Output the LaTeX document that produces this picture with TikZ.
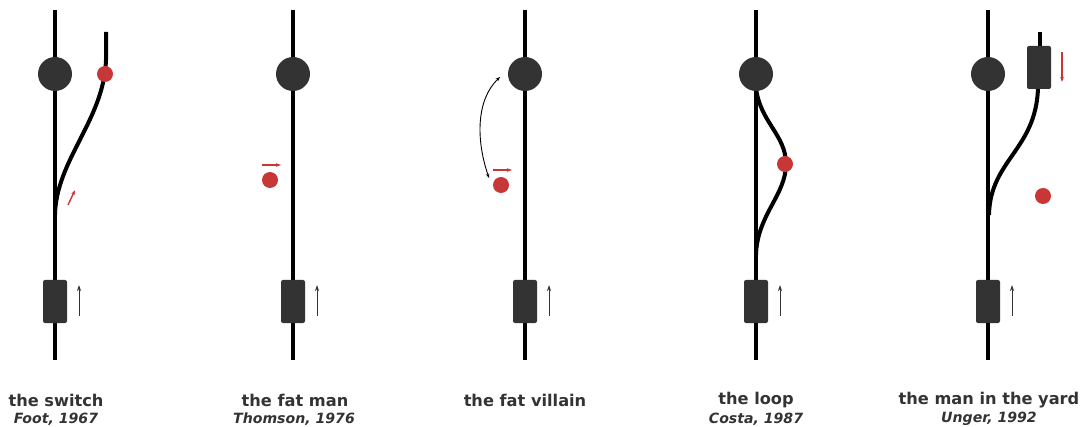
\documentclass[tikz,border=0pt]{standalone}
\usepackage{fontspec}
\setmainfont{DejaVu Sans}
\usetikzlibrary{arrows.meta}
\definecolor{dk}{HTML}{333333}
\definecolor{rd}{HTML}{C83737}
\tikzset{
  track/.style={line width=4pt, black},
  stn/.style={circle, fill=dk, minimum size=34pt, inner sep=0pt},
  person/.style={circle, fill=rd, minimum size=16pt, inner sep=0pt},
  tram/.style={rectangle, rounded corners=2pt, fill=dk, minimum width=24pt, minimum height=43pt, inner sep=0pt},
  motion/.style={line width=1pt, dk, -{Stealth[length=6pt,width=4pt]}},
  push/.style={line width=1.4pt, rd, -{Stealth[length=5pt,width=3.5pt]}},
  title/.style={font=\bfseries\fontsize{16.2}{19}\selectfont, text=dk, inner sep=0pt},
  cite/.style={font=\bfseries\itshape\fontsize{14.1}{17}\selectfont, text=dk, inner sep=0pt},
}
\begin{document}
\begin{tikzpicture}[x=1pt,y=-1pt]
\useasboundingbox (0,0) rectangle (1083,427);
% ---------- panel 1: the switch ----------
\coordinate (t1a) at (55,10); \coordinate (t1b) at (55,360);
\draw[track] (t1a) -- (t1b);
\coordinate (b1a) at (106,32); \coordinate (b1j) at (55,215);
\draw[track] (b1a) -- (106,60) .. controls (104,120) and (56,160) .. (b1j);
\node[stn] (s1) at (55,74) {};
\node[person] (p1) at (105,74) {};
\node[tram] (tr1) at (55,301.5) {};
\coordinate (m1a) at (79,316); \coordinate (m1b) at (79,285);
\draw[motion] (m1a) -- (m1b);
\coordinate (r1a) at (68,205); \coordinate (r1b) at (75,190);
\draw[push] (r1a) -- (r1b);
\node[title] (l1) at (56,400) {the switch};
\node[cite] (c1) at (56,419) {Foot, 1967};
% ---------- panel 2: the fat man ----------
\coordinate (t2a) at (293,10); \coordinate (t2b) at (293,360);
\draw[track] (t2a) -- (t2b);
\node[stn] (s2) at (293,74) {};
\node[person] (p2) at (270,180) {};
\node[tram] (tr2) at (293,301.5) {};
\coordinate (m2a) at (317,316); \coordinate (m2b) at (317,285);
\draw[motion] (m2a) -- (m2b);
\coordinate (r2a) at (262,165); \coordinate (r2b) at (281,165);
\draw[push] (r2a) -- (r2b);
\node[title] (l2) at (295,400) {the fat man};
\node[cite] (c2) at (294,419) {Thomson, 1976};
% ---------- panel 3: the fat villain ----------
\coordinate (t3a) at (525,10); \coordinate (t3b) at (525,360);
\draw[track] (t3a) -- (t3b);
\node[stn] (s3) at (525,74) {};
\node[person] (p3) at (501,185) {};
\node[tram] (tr3) at (525,301.5) {};
\coordinate (m3a) at (549,316); \coordinate (m3b) at (549,285);
\draw[motion] (m3a) -- (m3b);
\coordinate (r3a) at (493,170); \coordinate (r3b) at (512,170);
\draw[push] (r3a) -- (r3b);
\coordinate (v3a) at (489,178); \coordinate (v3b) at (500,77);
\draw[line width=0.9pt, black, {Stealth[length=4.5pt,width=3.5pt]}-{Stealth[length=4.5pt,width=3.5pt]}]
  (v3a) .. controls (476,140) and (476,100) .. (v3b);
\node[title] (l3) at (525,400) {the fat villain};
% ---------- panel 4: the loop ----------
\coordinate (t4a) at (756,10); \coordinate (t4b) at (756,360);
\draw[track] (t4a) -- (t4b);
\coordinate (b4a) at (756,88); \coordinate (b4b) at (756,255);
\draw[track] (b4a) .. controls (760,122) and (786,135) .. (786,164)
  .. controls (786,195) and (757,215) .. (b4b);
\node[stn] (s4) at (756,74) {};
\node[person] (p4) at (785,164) {};
\node[tram] (tr4) at (756,301.5) {};
\coordinate (m4a) at (780,316); \coordinate (m4b) at (780,285);
\draw[motion] (m4a) -- (m4b);
\node[title] (l4) at (756,400) {the loop};
\node[cite] (c4) at (756,419) {Costa, 1987};
% ---------- panel 5: the man in the yard ----------
\coordinate (t5a) at (988,10); \coordinate (t5b) at (988,360);
\draw[track] (t5a) -- (t5b);
\coordinate (b5a) at (1040,32); \coordinate (b5j) at (989,215);
\draw[track] (b5a) -- (1040,60);
\draw[track] (1038,88) .. controls (1036,150) and (990,160) .. (b5j);
\node[stn] (s5) at (988,74) {};
\node[tram] (tr5b) at (1039,67.5) {};
\node[person] (p5) at (1043,196) {};
\node[tram] (tr5) at (988,301.5) {};
\coordinate (m5a) at (1012,316); \coordinate (m5b) at (1012,285);
\draw[motion] (m5a) -- (m5b);
\coordinate (r5a) at (1062,52); \coordinate (r5b) at (1062,82);
\draw[push] (r5a) -- (r5b);
\node[title] (l5) at (989,400) {the man in the yard};
\node[cite] (c5) at (989,419) {Unger, 1992};
\end{tikzpicture}
\end{document}
